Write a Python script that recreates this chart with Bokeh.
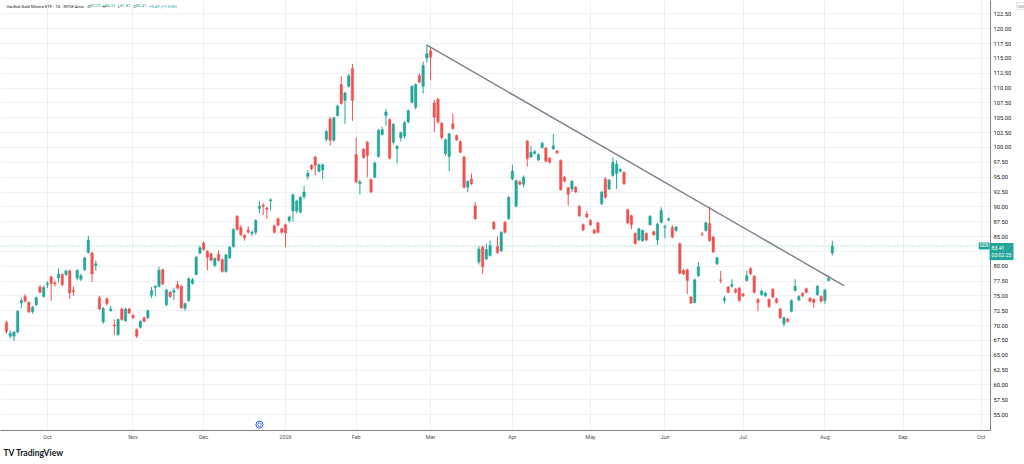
import numpy as np
from bokeh.plotting import figure
from bokeh.models import (ColumnDataSource, FixedTicker, PrintfTickFormatter,
                          Range1d, Label, Title, Span)
from bokeh.embed import file_html
from bokeh.resources import INLINE

# ---------------- data ----------------
opens = [70.5, 68.2, 68.2, 68.9, 73.8, 74.9, 73.9, 72.3, 73.5, 76.5,
         74.9, 76.9, 78.2, 77.2, 78.0, 78.6, 78.6, 79.2, 75.9, 78.0,
         77.8, 79.4, 82.3, 82.2, 80.1, 74.7, 70.6, 74.5, 72.5, 70.1,
         68.5, 72.8, 70.8, 72.8, 71.7, 69.3, 69.7, 71.3, 71.3, 75.1,
         76.4, 76.6, 79.4, 73.5, 75.6, 75.6, 76.9, 76.6, 72.9, 74.2,
         77.1, 78.6, 82.2, 83.9, 82.5, 82.1, 80.1, 82.0, 81.1, 79.1,
         81.4, 83.3, 88.4, 86.5, 85.2, 86.1, 85.5, 85.7, 89.7, 90.3,
         89.8, 91.0, 86.8, 88.0, 86.3, 87.0, 87.7, 89.3, 89.3, 89.1,
         91.7, 95.1, 97.0, 98.4, 96.0, 96.2, 101.4, 104.8, 101.2, 105.4,
         110.6, 107.9, 110.3, 113.3, 98.8, 93.9, 99.7, 100.9, 94.6, 95.0,
         98.5, 102.2, 105.4, 104.7, 100.9, 99.8, 101.6, 101.9, 104.3, 107.6,
         106.8, 112.1, 110.3, 115.1, 116.3, 107.5, 108.1, 104.1, 99.0, 98.5,
         104.0, 102.0, 101.0, 98.4, 93.3, 94.7, 90.2, 80.7, 83.2, 81.2,
         81.8, 87.4, 83.3, 82.6, 87.4, 88.0, 94.7, 90.1, 94.2, 93.8,
         101.1, 98.4, 99.0, 97.9, 100.0, 99.9, 98.2, 99.8, 99.4, 97.8,
         95.0, 93.2, 93.0, 93.3, 90.1, 87.0, 88.8, 87.7, 86.1, 87.3,
         90.5, 94.7, 93.0, 95.3, 95.6, 96.0, 95.8, 89.5, 88.5, 85.5,
         84.4, 84.3, 85.5, 87.0, 85.8, 84.4, 87.4, 86.5, 87.8, 86.5,
         86.0, 83.8, 79.3, 79.4, 74.8, 73.9, 78.4, 85.4, 86.0, 87.2,
         84.9, 80.4, 77.7, 74.2, 76.5, 76.6, 76.1, 76.3, 75.3, 77.6,
         79.6, 78.3, 74.4, 75.2, 75.0, 74.4, 76.1, 74.5, 72.8, 70.3,
         71.1, 72.4, 75.9, 74.3, 75.4, 76.2, 74.6, 74.4, 75.2, 74.9,
         74.2, 77.6, 82.20]
closes = [69.0, 68.7, 68.9, 72.4, 74.2, 74.1, 72.3, 73.1, 74.7, 75.6,
          76.4, 77.1, 77.1, 77.0, 78.7, 76.9, 79.2, 75.5, 75.7, 79.3,
          78.4, 81.4, 84.4, 78.7, 80.4, 72.8, 72.9, 73.7, 72.8, 69.9,
          71.0, 71.0, 72.8, 72.1, 71.3, 68.2, 70.7, 70.7, 72.5, 75.9,
          76.6, 79.3, 77.0, 76.0, 74.9, 75.9, 76.3, 73.0, 73.7, 77.9,
          77.7, 81.5, 83.1, 82.8, 81.5, 81.0, 81.3, 81.0, 79.1, 81.9,
          83.2, 86.2, 86.2, 85.3, 84.8, 85.7, 85.7, 87.7, 90.1, 90.1,
          89.6, 91.2, 85.7, 86.9, 85.7, 85.6, 88.3, 92.0, 91.0, 91.6,
          92.5, 95.7, 96.4, 97.0, 97.1, 97.1, 102.7, 101.2, 105.0, 107.0,
          107.4, 109.2, 112.1, 107.9, 94.2, 94.2, 98.3, 98.6, 92.5, 97.4,
          102.9, 103.0, 106.0, 98.2, 103.9, 100.2, 102.5, 104.2, 106.2, 110.3,
          110.6, 111.0, 113.8, 115.8, 115.2, 105.1, 104.3, 101.7, 101.3, 102.3,
          103.2, 101.3, 99.2, 93.3, 94.3, 93.9, 88.0, 82.9, 79.9, 82.8,
          83.5, 86.3, 82.3, 85.7, 85.7, 91.6, 96.0, 94.4, 93.8, 95.0,
          98.1, 99.2, 99.3, 98.8, 100.7, 97.7, 97.5, 100.3, 99.1, 92.9,
          94.3, 92.1, 94.3, 92.5, 88.5, 86.1, 88.3, 87.0, 85.6, 85.7,
          92.5, 91.6, 94.5, 97.5, 97.2, 96.3, 93.9, 87.3, 87.0, 83.8,
          86.3, 86.0, 84.4, 88.4, 85.3, 87.1, 89.4, 86.7, 88.0, 84.9,
          86.6, 78.8, 78.7, 77.6, 73.8, 77.7, 79.9, 85.3, 87.3, 84.3,
          82.4, 81.4, 77.6, 74.6, 75.6, 76.9, 75.6, 74.2, 75.0, 78.4,
          78.7, 75.6, 73.9, 75.8, 75.5, 73.2, 74.8, 73.9, 71.3, 71.3,
          70.7, 74.2, 76.6, 74.9, 75.0, 75.6, 74.1, 73.9, 76.6, 74.1,
          76.0, 77.92, 83.41]
highs = [70.8, 69.2, 69.1, 72.6, 74.7, 75.3, 74.1, 73.3, 74.9, 76.8,
         76.7, 77.5, 78.4, 77.6, 79.6, 78.8, 79.4, 79.4, 76.6, 79.5,
         78.7, 81.6, 85.1, 82.5, 81.0, 75.0, 73.1, 74.7, 73.3, 71.0,
         71.2, 73.0, 73.0, 73.0, 72.0, 69.5, 70.9, 71.5, 72.7, 76.5,
         76.8, 79.9, 79.6, 76.2, 75.8, 76.4, 77.5, 76.8, 73.9, 78.1,
         78.0, 81.7, 83.4, 84.2, 82.7, 82.3, 81.5, 82.7, 81.3, 82.1,
         83.4, 86.4, 88.6, 86.9, 85.4, 86.7, 86.0, 87.9, 91.0, 90.6,
         90.0, 91.4, 87.0, 88.2, 86.5, 87.2, 88.5, 92.3, 91.2, 91.8,
         93.5, 96.2, 97.2, 98.6, 97.3, 97.3, 103.0, 105.2, 105.2, 107.2,
         112.0, 109.4, 112.4, 114.1, 101.7, 94.6, 99.9, 101.1, 94.8, 97.6,
         103.1, 103.5, 106.5, 104.9, 104.1, 100.4, 102.7, 104.4, 106.4, 110.5,
         110.8, 112.5, 114.5, 117.3, 116.9, 108.0, 108.4, 104.3, 101.5, 102.5,
         105.7, 102.2, 101.2, 98.6, 94.5, 95.6, 90.8, 83.4, 83.5, 83.8,
         84.3, 87.6, 85.0, 85.9, 87.6, 91.8, 97.1, 94.6, 94.5, 95.3,
         101.3, 100.3, 99.6, 99.0, 101.0, 100.1, 98.4, 102.3, 99.6, 98.0,
         95.2, 93.4, 94.5, 93.5, 90.3, 87.2, 89.3, 87.9, 86.3, 87.5,
         92.7, 95.0, 94.7, 98.3, 97.8, 96.5, 96.0, 89.7, 88.7, 85.7,
         86.5, 86.2, 85.7, 88.6, 86.0, 87.3, 89.9, 87.0, 88.2, 86.9,
         86.8, 84.0, 79.5, 79.6, 75.0, 77.9, 80.7, 85.8, 87.5, 90.0,
         85.1, 81.6, 79.2, 75.0, 76.7, 77.8, 76.3, 76.5, 75.5, 79.2,
         79.8, 78.5, 74.6, 76.0, 75.7, 74.6, 76.3, 74.7, 73.0, 71.5,
         71.3, 74.4, 77.8, 75.1, 75.6, 76.4, 74.8, 74.6, 76.8, 75.1,
         76.2, 78.5, 84.31]
lows = [68.6, 67.9, 67.4, 68.7, 72.9, 73.9, 72.1, 72.0, 73.3, 75.4,
        74.7, 76.3, 74.2, 76.6, 77.2, 76.6, 78.3, 74.5, 75.0, 77.6,
        77.5, 79.2, 82.1, 77.3, 79.2, 72.6, 70.3, 73.4, 72.3, 68.4,
        68.2, 70.8, 70.6, 71.9, 71.1, 67.9, 69.5, 70.5, 71.1, 74.6,
        74.9, 76.4, 76.8, 73.3, 74.6, 74.3, 76.1, 72.8, 72.5, 74.0,
        76.9, 78.4, 82.0, 82.6, 79.3, 80.8, 79.9, 80.8, 78.9, 78.9,
        81.2, 83.1, 86.0, 85.1, 84.3, 85.5, 85.1, 85.3, 88.9, 88.6,
        88.0, 89.4, 85.5, 86.7, 85.5, 83.2, 87.3, 87.5, 88.9, 88.9,
        91.3, 94.6, 96.2, 95.3, 95.8, 94.7, 101.0, 100.3, 101.0, 105.2,
        107.2, 104.0, 110.1, 104.5, 94.0, 92.1, 98.1, 95.0, 92.3, 94.8,
        98.3, 102.0, 103.7, 98.0, 100.5, 97.3, 101.0, 101.5, 104.1, 107.4,
        106.4, 110.8, 109.1, 114.3, 111.3, 102.6, 104.0, 101.3, 98.6, 96.0,
        103.0, 101.1, 99.0, 93.1, 92.5, 93.7, 87.8, 80.3, 78.7, 81.0,
        81.6, 86.1, 82.1, 82.4, 85.5, 87.8, 94.5, 89.9, 93.6, 93.3,
        96.8, 98.2, 98.8, 97.7, 99.8, 97.5, 97.3, 99.6, 98.9, 92.7,
        94.1, 90.2, 92.5, 92.3, 88.3, 85.9, 88.1, 86.8, 85.4, 85.5,
        90.3, 91.4, 92.8, 95.1, 93.0, 95.8, 93.7, 87.1, 86.2, 83.6,
        84.2, 84.1, 84.2, 86.8, 85.1, 83.6, 87.2, 84.7, 87.6, 84.7,
        85.8, 78.6, 78.5, 75.3, 73.6, 73.7, 78.2, 85.1, 85.8, 84.1,
        82.2, 80.2, 77.1, 73.7, 75.4, 76.4, 75.4, 74.0, 74.8, 77.4,
        78.5, 75.4, 72.4, 75.0, 74.8, 73.0, 74.6, 73.7, 71.1, 69.8,
        70.5, 72.2, 75.7, 74.1, 74.8, 75.4, 73.9, 73.0, 75.0, 73.9,
        73.6, 77.4, 81.81]

# month tick positions (bar index) and their labels
month_pos = [11, 34, 53, 75, 94, 114, 136, 157, 177, 198, 220, 241, 262]
month_labels = ["Oct", "Nov", "Dec", "2026", "Feb", "Mar", "Apr", "May",
                "Jun", "Jul", "Aug", "Sep", "Oct"]
price_ticks = [55.0, 57.5, 60.0, 62.5, 65.0, 67.5, 70.0, 72.5, 75.0, 77.5,
               80.0, 82.5, 85.0, 87.5, 90.0, 92.5, 95.0, 97.5, 100.0, 102.5,
               105.0, 107.5, 110.0, 112.5, 115.0, 117.5, 120.0, 122.5]

# drawn trend line (bar index, price)
trend_x = [112.9, 225.1]
trend_y = [117.3, 76.74]

last_price = 83.41
event_x = [68]
event_y = [53.3]

UP = "#26a69a"
DOWN = "#ef5350"
TEAL = "#26a69a"
FONT = "Roboto"

# ---------------- build ----------------
o = np.array(opens)
c = np.array(closes)
h = np.array(highs)
l = np.array(lows)
idx = np.arange(len(o))
colors = np.where(c >= o, UP, DOWN)

src = ColumnDataSource(dict(
    x=idx, top=np.maximum(o, c), bottom=np.minimum(o, c),
    high=h, low=l, color=colors))

X0, X1 = -1.61, 264.52
Y0, Y1 = 52.31, 124.77

p = figure(frame_width=990, frame_height=430,
           x_range=Range1d(X0, X1), y_range=Range1d(Y0, Y1),
           y_axis_location="right", output_backend="svg",
           toolbar_location=None, min_border_left=0, min_border_right=0,
           min_border_top=0, min_border_bottom=0)
p.outline_line_color = None
p.background_fill_color = "white"

p.xgrid.grid_line_color = "#eef1f6"
p.ygrid.grid_line_color = "#eef1f6"

# axes
p.xaxis.ticker = FixedTicker(ticks=month_pos)
p.xaxis.major_label_overrides = {pos: lab for pos, lab in zip(month_pos, month_labels)}
p.yaxis.ticker = FixedTicker(ticks=price_ticks)
p.yaxis.formatter = PrintfTickFormatter(format="%.2f")
for ax in (p.xaxis, p.yaxis):
    ax.axis_line_color = "#7f828b"
    ax.major_tick_line_color = None
    ax.minor_tick_line_color = None
    ax.major_tick_out = 0
    ax.major_tick_in = 0
    ax.minor_tick_out = 0
    ax.major_label_text_font = FONT
p.xaxis.major_label_text_font_size = "5.5px"
p.xaxis.major_label_text_color = "#50535e"
p.xaxis.major_label_standoff = 3
p.yaxis.major_label_text_font_size = "5.8px"
p.yaxis.major_label_text_color = "#131722"
p.yaxis.major_label_standoff = 3

# last price dotted line
p.add_layout(Span(location=last_price, dimension="width", line_color=TEAL,
                  line_dash="1 2", line_alpha=0.6, line_width=1))

# candles
p.segment(x0="x", y0="low", x1="x", y1="high", line_color="color",
          line_width=1, source=src)
p.vbar(x="x", width=0.68, top="top", bottom="bottom", fill_color="color",
       line_color="color", line_width=0.4, source=src)

# trend line
p.line(trend_x, trend_y, line_color="#7b7e87", line_width=1.4)

# event marker
p.scatter(event_x, event_y, marker="circle", size=7, fill_color="white",
          line_color="#2962ff", line_width=1)
p.scatter(event_x, event_y, marker="circle", size=3.5, fill_color=None,
          line_color="#2962ff", line_width=0.8)

# header
header = [
    ("VanEck Gold Miners ETF · 1D · NYSE Arca", "#131722", 6),
    ("O", "#131722", 87), ("82.20", TEAL, 89.5),
    ("H", "#131722", 102), ("84.31", TEAL, 104.5),
    ("L", "#131722", 117.5), ("81.81", TEAL, 119.5),
    ("C", "#131722", 133), ("83.41", TEAL, 135.5),
    ("+5.49 (+7.05%)", TEAL, 148.5),
]
for txt, col, off in header:
    p.add_layout(Label(x=X0, y=Y1, x_offset=off, y_offset=-3.5, text=txt,
                       text_color=col, text_font=FONT, text_font_size="4.2px",
                       text_align="left", text_baseline="top"))

# symbol tag just inside the price scale
p.add_layout(Label(x=X1, y=last_price, x_offset=-1, text="GDX",
                   text_align="right", text_baseline="middle",
                   text_color="white", text_font=FONT, text_font_size="4.5px",
                   background_fill_color=TEAL, padding=1))

# price tag and currency on the price scale (side panel, not clipped)
p.add_layout(Label(x=0, y=last_price, x_units="screen", x_offset=-25,
                   y_offset=3, text="83.41\n03:02:25", text_align="left",
                   text_baseline="top", text_color="white", text_font=FONT,
                   text_font_size="5.2px", background_fill_color=TEAL,
                   padding=2), "right")
p.add_layout(Label(x=0, y=Y1, x_units="screen", x_offset=-22,
                   y_offset=-2, text="USD", text_align="left",
                   text_baseline="top", text_color="#787b86", text_font=FONT,
                   text_font_size="4px", background_fill_color="white",
                   border_line_color="#e0e3eb", padding=1), "right")

# TradingView brand under the axis
p.add_layout(Title(text="TV  TradingView", align="left", offset=3, standoff=7,
                   text_font="Lato", text_font_size="8.5px",
                   text_font_style="bold", text_color="#131722"), "below")

open("out.html", "w").write(file_html(p, INLINE))
